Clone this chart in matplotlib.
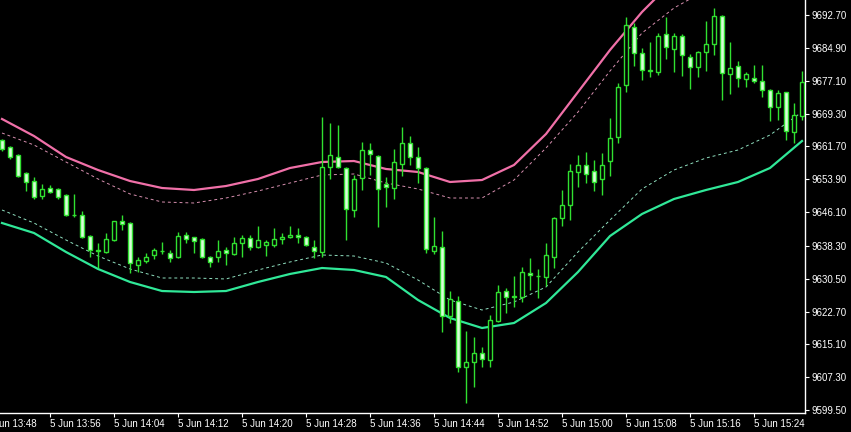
import matplotlib
matplotlib.use("Agg")
import matplotlib.pyplot as plt

# M1 candles, 5 Jun 13:50 - 15:30
day_label = "5 Jun"
start_minute = 13 * 60 + 50

opens = [9663.20, 9661.55, 9659.66, 9655.41, 9653.52, 9649.98, 9651.87, 9651.64, 9650.22, 9645.60,
         9645.50, 9640.54, 9637.00, 9636.77, 9639.60, 9644.08, 9643.61, 9633.70, 9634.64, 9636.06,
         9637.00, 9636.53, 9635.59, 9640.78, 9640.31, 9639.84, 9635.59, 9635.59, 9637.24, 9636.30,
         9638.89, 9640.07, 9637.95, 9638.42, 9638.42, 9639.84, 9640.31, 9640.78, 9640.31, 9637.95,
         9636.77, 9656.83, 9659.19, 9656.59, 9646.68, 9654.23, 9660.84, 9659.42, 9652.82, 9651.87,
         9657.54, 9662.49, 9659.19, 9656.59, 9637.00, 9637.95, 9621.66, 9625.20, 9609.63, 9610.81,
         9612.93, 9611.28, 9620.48, 9627.56, 9626.15, 9626.15, 9631.81, 9631.10, 9630.87, 9635.59,
         9644.79, 9647.86, 9655.65, 9657.30, 9655.88, 9654.00, 9658.24, 9663.91, 9676.18, 9689.87,
         9683.73, 9679.48, 9679.25, 9688.22, 9684.68, 9687.74, 9682.79, 9680.43, 9683.97, 9685.86,
         9692.46, 9678.78, 9680.66, 9677.60, 9677.83, 9677.12, 9675.00, 9670.99, 9674.53, 9665.09,
         9668.86]
highs = [9663.44, 9661.78, 9659.90, 9655.65, 9654.47, 9652.82, 9652.58, 9651.87, 9650.46, 9650.46,
         9646.44, 9640.78, 9638.89, 9641.25, 9644.08, 9645.50, 9643.85, 9635.59, 9636.53, 9637.71,
         9639.13, 9637.24, 9641.49, 9641.49, 9640.31, 9640.07, 9635.82, 9639.60, 9637.95, 9640.31,
         9640.78, 9640.78, 9642.90, 9639.60, 9642.43, 9641.25, 9642.90, 9642.43, 9640.54, 9639.60,
         9668.63, 9667.21, 9666.74, 9656.83, 9654.94, 9662.73, 9662.49, 9659.66, 9654.47, 9661.08,
         9666.27, 9664.14, 9661.55, 9656.83, 9645.03, 9641.72, 9627.56, 9626.38, 9618.12, 9616.71,
         9614.35, 9621.90, 9628.98, 9628.27, 9631.10, 9633.23, 9635.35, 9632.76, 9638.89, 9645.03,
         9651.40, 9657.54, 9659.66, 9660.37, 9658.48, 9660.13, 9668.39, 9676.65, 9692.23, 9690.81,
         9684.91, 9686.33, 9688.45, 9692.23, 9688.45, 9688.22, 9683.50, 9684.20, 9691.28, 9694.35,
         9692.70, 9686.33, 9681.84, 9679.25, 9680.90, 9680.90, 9675.24, 9675.00, 9674.53, 9671.93,
         9679.48]
lows = [9660.60, 9658.72, 9654.47, 9651.16, 9649.28, 9649.28, 9650.69, 9649.28, 9645.26, 9645.03,
        9640.07, 9635.59, 9632.99, 9636.53, 9639.36, 9641.96, 9631.81, 9632.05, 9634.17, 9635.12,
        9636.30, 9634.41, 9635.35, 9638.89, 9636.53, 9635.35, 9633.23, 9634.41, 9633.70, 9636.06,
        9635.59, 9637.24, 9637.71, 9635.82, 9637.95, 9638.66, 9640.07, 9638.89, 9638.18, 9635.35,
        9635.59, 9654.00, 9656.59, 9639.60, 9645.03, 9651.40, 9654.94, 9642.67, 9647.39, 9649.28,
        9654.70, 9657.30, 9653.05, 9636.53, 9636.30, 9617.89, 9620.01, 9608.45, 9601.13, 9604.91,
        9609.63, 9609.63, 9620.25, 9622.37, 9623.79, 9624.97, 9627.80, 9625.91, 9628.74, 9632.99,
        9642.90, 9644.32, 9652.11, 9653.05, 9651.16, 9650.22, 9654.70, 9662.49, 9674.53, 9680.66,
        9677.36, 9678.07, 9678.54, 9682.32, 9679.25, 9678.30, 9675.24, 9678.07, 9679.48, 9683.26,
        9672.64, 9674.06, 9675.71, 9675.71, 9676.65, 9673.35, 9667.68, 9667.92, 9663.20, 9662.49,
        9667.92]
closes = [9661.08, 9659.19, 9654.70, 9653.29, 9649.75, 9651.64, 9650.93, 9649.75, 9645.50, 9645.50,
          9640.31, 9637.24, 9637.24, 9639.84, 9644.08, 9643.38, 9634.17, 9634.88, 9635.59, 9637.24,
          9637.10, 9635.35, 9640.54, 9639.84, 9639.36, 9635.59, 9634.41, 9637.00, 9636.53, 9638.89,
          9640.07, 9637.95, 9639.60, 9639.13, 9639.84, 9640.31, 9640.78, 9640.31, 9638.42, 9637.00,
          9656.83, 9659.66, 9656.83, 9646.92, 9654.00, 9660.84, 9659.90, 9651.64, 9652.11, 9658.01,
          9662.49, 9659.19, 9656.59, 9637.48, 9638.18, 9621.66, 9625.68, 9609.63, 9610.81, 9612.93,
          9611.52, 9620.72, 9627.33, 9626.15, 9626.38, 9632.05, 9631.34, 9631.20, 9636.06, 9644.79,
          9647.86, 9655.88, 9657.30, 9655.18, 9653.29, 9657.30, 9663.67, 9675.71, 9690.34, 9683.73,
          9679.72, 9679.72, 9687.74, 9685.15, 9687.74, 9683.26, 9680.43, 9683.97, 9685.86, 9692.46,
          9679.01, 9680.19, 9677.83, 9678.78, 9677.12, 9675.00, 9670.99, 9674.29, 9665.32, 9669.10,
          9676.89]

# envelope lines, read every 4th candle
band_idx = list(range(0, 101, 4))
upper_outer = [9668.16, 9664.14, 9659.19, 9656.12, 9653.52, 9651.87, 9651.40, 9652.34, 9654.00,
               9656.59, 9658.01, 9658.24, 9656.36, 9655.65, 9653.29, 9653.76, 9657.30, 9664.62,
               9674.53, 9684.44, 9693.41, 9700.96, 9705.68, 9709.22, 9712.76, 9715.12]
upper_inner = [9664.85, 9662.02, 9658.01, 9654.00, 9650.46, 9648.57, 9648.33, 9649.51, 9651.16,
               9653.05, 9654.94, 9655.18, 9653.05, 9651.64, 9649.51, 9649.51, 9653.76, 9661.31,
               9669.81, 9679.48, 9688.45, 9694.35, 9698.60, 9702.14, 9705.68, 9708.04]
lower_inner = [9646.68, 9643.61, 9639.60, 9635.82, 9632.76, 9630.63, 9630.63, 9630.40, 9632.52,
               9634.41, 9636.06, 9635.82, 9634.17, 9630.16, 9625.44, 9623.08, 9624.97, 9628.51,
               9636.77, 9644.32, 9651.64, 9656.12, 9658.95, 9660.84, 9664.38, 9669.81]
lower_outer = [9643.61, 9641.25, 9636.77, 9632.76, 9629.69, 9627.56, 9627.33, 9627.56, 9629.69,
               9631.58, 9632.99, 9632.52, 9630.87, 9625.44, 9621.19, 9618.83, 9620.01, 9624.73,
               9632.05, 9640.54, 9645.74, 9649.28, 9651.40, 9653.29, 9656.59, 9662.96]

price_ticks = [9599.50, 9607.30, 9615.10, 9622.70, 9630.50, 9638.30, 9646.10,
               9653.90, 9661.70, 9669.30, 9677.10, 9684.90, 9692.70]

plt.rcParams['font.family'] = ['Liberation Sans', 'DejaVu Sans']

W, H = 851, 432
fig = plt.figure(figsize=(W / 100, H / 100), dpi=100, facecolor='black')
ax = fig.add_axes([0, 19 / H, 805 / W, 1 - 19 / H], facecolor='black')

# bands
ax.plot(band_idx, upper_outer, color='#f070a8', lw=1.6, zorder=1)
ax.plot(band_idx, upper_inner, color='#d890b0', lw=0.7, ls=(0, (3, 3)), zorder=1)
ax.plot(band_idx, lower_inner, color='#90e0c0', lw=0.7, ls=(0, (3, 3)), zorder=1)
ax.plot(band_idx, lower_outer, color='#30e898', lw=1.6, zorder=1)

# candles
green = '#30e030'
idx = list(range(len(opens)))
ax.vlines(idx, lows, highs, color=green, lw=1.0, zorder=2)
bottoms = [min(o, c) for o, c in zip(opens, closes)]
heights = [abs(c - o) for o, c in zip(opens, closes)]
fills = ['#d8ffd8' if c < o else 'black' for o, c in zip(opens, closes)]
ax.bar(idx, heights, bottom=bottoms, width=0.55, color=fills,
       edgecolor=green, linewidth=1.0, zorder=3)

ax.set_xlim(-0.25, 100.375)
ax.set_ylim(9598.77, 9696.24)

# axes styling
for s in ['top', 'left']:
    ax.spines[s].set_visible(False)
for s in ['right', 'bottom']:
    ax.spines[s].set_color('white')
    ax.spines[s].set_linewidth(1.0)

ax.yaxis.tick_right()
ax.set_yticks(price_ticks)
ax.set_yticklabels(['%.2f' % p for p in price_ticks])
ax.tick_params(axis='y', colors='white', labelsize=7, length=3, pad=2, width=0.8)

tick_pos = list(range(6, 101, 8))
def time_label(k):
    m = start_minute + k
    return '%s %d:%02d' % (day_label, m // 60, m % 60)

ax.set_xticks(tick_pos)
ax.set_xticklabels([time_label(k) for k in tick_pos])
ax.tick_params(axis='x', colors='white', labelsize=7, length=3, pad=1.5, width=0.8)
for lbl in ax.get_xticklabels():
    lbl.set_ha('left')

# first label, partly cut off on the left
ax.annotate(time_label(-2), xy=(-2, 0), xycoords=('data', 'axes fraction'),
            xytext=(0, -4.5), textcoords='offset points',
            color='white', fontsize=7, ha='left', va='top', annotation_clip=False)

fig.savefig('out.png', dpi=100, facecolor='black')
